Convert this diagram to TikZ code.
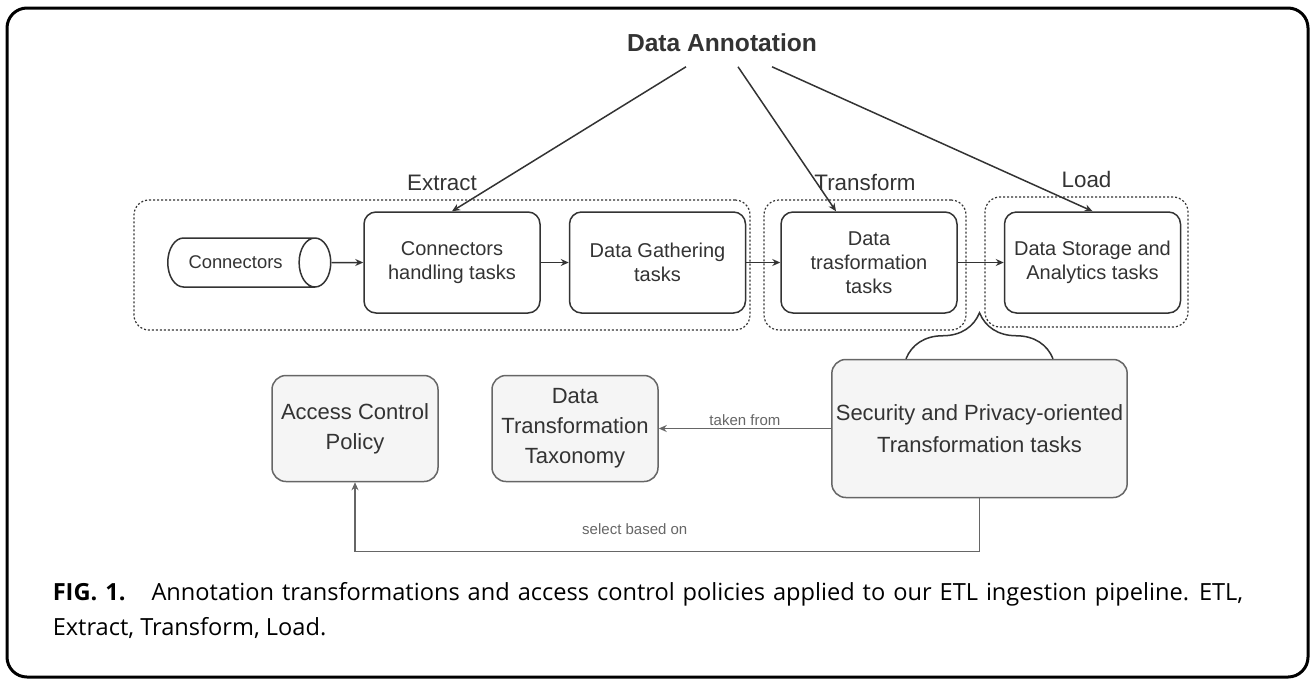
\documentclass[tikz,border=0pt]{standalone}
\usepackage{fontspec}
\setmainfont{Liberation Sans}
\newfontfamily\capfont{Open Sans}
\usetikzlibrary{arrows.meta,positioning,calc,shapes.geometric,fit,decorations.pathreplacing}
\definecolor{ink}{RGB}{51,51,51}
\definecolor{soft}{RGB}{102,102,102}
\definecolor{paper}{RGB}{245,245,245}
\tikzset{
  every picture/.style={color=ink, line width=0.75pt},
  task/.style={draw=ink, rounded corners=6pt, minimum width=88pt, minimum height=50.5pt, inner sep=2pt, align=center, font=\fontsize{10}{12}\selectfont},
  store/.style={draw=ink, shape=cylinder, aspect=1.2, minimum height=81.5pt, minimum width=24.5pt, font=\fontsize{9.2}{11}\selectfont},
  stage/.style={draw=ink, dash pattern=on 1pt off 1pt, line width=0.6pt, rounded corners=7.5pt, inner sep=0pt},
  stagename/.style={font=\fontsize{11.2}{13}\selectfont, inner sep=0pt, label distance=4pt},
  ref/.style={draw=soft, fill=paper, rounded corners=7pt, inner xsep=2pt, align=center, text=ink, font=\fontsize{11}{15}\selectfont},
  flow/.style={-{Stealth[length=4pt,width=3.5pt]}},
  link/.style={flow, color=soft},
  lbl/.style={font=\fontsize{7.5}{9}\selectfont, inner sep=1pt},
  title/.style={font=\bfseries\fontsize{12.3}{14}\selectfont, inner ysep=7pt},
  capline/.style={font=\capfont\fontsize{11.8}{14}\selectfont, inner sep=0pt, anchor=base west, text=black},
}

\begin{document}
\begin{tikzpicture}[x=0.5pt, y=-0.5pt]
  \useasboundingbox (0,0) rectangle (1310,681);
  \draw[black, line width=1.5pt, rounded corners=10pt] (7,8) rectangle (1308,677);

  % the ETL row
  \node[store, anchor=west] (conn) at (167,262.5) {Connectors};
  \node[task] (cht) at (452,262.5) {Connectors\\handling tasks};
  \node[task, right=14pt of cht] (dg) {Data Gathering\\tasks};
  \node[task, right=17pt of dg] (dt) {Data\\trasformation\\tasks};
  \node[task, right=23pt of dt] (ds) {Data Storage and\\Analytics tasks};

  \node[stage, fit={(134,200) (750,330)}, label={[stagename]above:Extract}] (ext) {};
  \node[stage, fit={(764,200) (966,330)}, label={[stagename]above:Transform}] (tra) {};
  \node[stage, fit={(985,197) (1188,327)}, label={[stagename]above:Load}] (lod) {};

  \draw[flow] (conn) -- (cht);
  \draw[flow] (cht) -- (dg);
  \draw[flow] (dg) -- (dt);
  \draw[flow] (dt) -- (ds);

  % annotation on top
  \node[title] (ann) at (722,43) {Data Annotation};
  \draw[flow] ($(ann.south)+(-36,0)$) -- (cht.north);
  \draw[flow] ($(ann.south)+(16,0)$) -- ($(dt.north)+(-33,0)$);
  \draw[flow] ($(ann.south)+(50,0)$) -- (ds.north);

  % security side
  \node[ref, minimum width=147.5pt, minimum height=69pt, font=\fontsize{11}{16}\selectfont] (sec) at (979.5,428.5) {Security and Privacy-oriented\\Transformation tasks};
  \node[ref, minimum width=83pt, minimum height=53pt] (acp) at (355,428.5) {Access Control\\Policy};
  \node[ref, minimum width=83pt, minimum height=53pt] (dtt) at (575,428.5) {Data\\Transformation\\Taxonomy};

  \draw[decorate, decoration={brace, amplitude=23pt}] ($(sec.north)+(-73.5,0)$) -- ($(sec.north)+(73.5,0)$);
  \draw[link] (sec) -- node[lbl, above] {taken from} (dtt);
  \draw[link] (sec.south) -- ++(0,53) -| node[lbl, pos=0.276, above=7pt] {select based on} (acp.south);

  % caption
  \node[capline] (cap1) at (52,600) {\spaceskip=1.3\fontdimen2\font\relax\textbf{FIG. 1.}\hspace{13pt}Annotation transformations and access control policies applied to our ETL ingestion pipeline. ETL,};
  \node[capline] (cap2) at (52,635) {Extract, Transform, Load.};
\end{tikzpicture}
\end{document}
